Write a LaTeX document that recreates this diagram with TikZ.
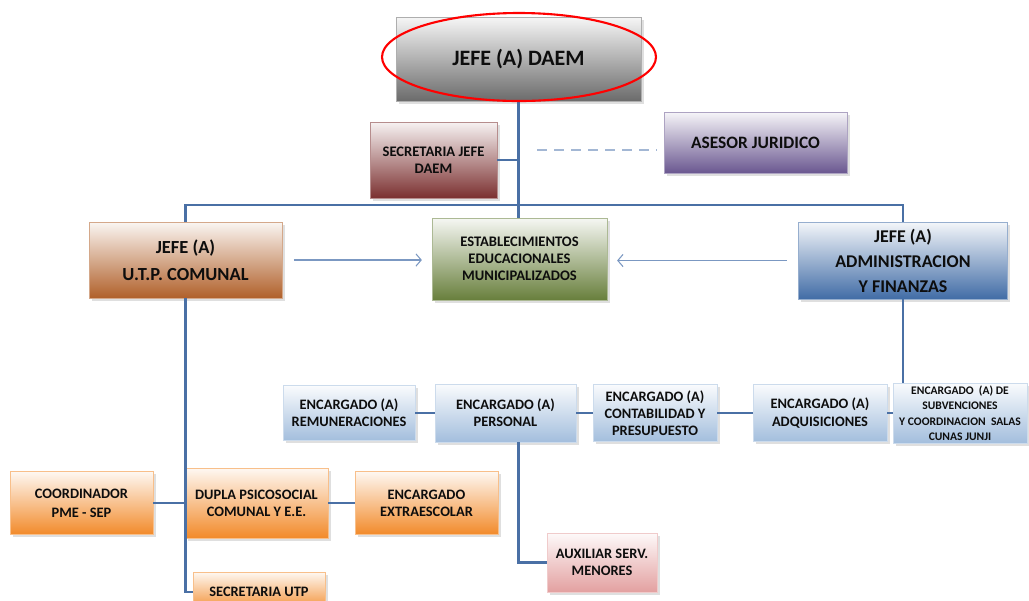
\documentclass[tikz,border=0pt]{standalone}
\usepackage{fontspec}
\setmainfont{Carlito}
\usetikzlibrary{shadows,arrows.meta}

\definecolor{cgray}{HTML}{6B6B6B}
\definecolor{cmaroon}{HTML}{7B3030}
\definecolor{cpurple}{HTML}{6A5790}
\definecolor{cbrown}{HTML}{B0602A}
\definecolor{colive}{HTML}{687F3C}
\definecolor{cblue}{HTML}{416CA6}
\definecolor{clight}{HTML}{A3BEDD}
\definecolor{corange}{HTML}{F28A2A}
\definecolor{cpink}{HTML}{E3A0A0}
\definecolor{linkblue}{HTML}{4A70A5}
\definecolor{arrowblue}{HTML}{7B98C2}

\tikzset{
  box/.style={rectangle, draw=#1!55!white, line width=0.5pt,
    top color=#1!6!white, bottom color=#1, align=center, text=black!95,
    inner sep=1pt, drop shadow={opacity=0.25, shadow xshift=1.5pt, shadow yshift=-1.5pt}},
  sz/.style 2 args={minimum width=#1*0.02cm, minimum height=#2*0.02cm},
  fnt/.style 2 args={font=\fontsize{#1}{#2}\selectfont\bfseries},
  link/.style={draw=linkblue, line width=1.5pt},
  flow/.style={draw=arrowblue, line width=0.6pt, -{Straight Barb[length=3pt,width=7pt]}}
}

\begin{document}
\begin{tikzpicture}[x=0.02cm, y=-0.02cm]
  \clip (0,0) rectangle (1029,600);
  \fill[white] (0,0) rectangle (1029,600);

  % top level
  \node[box=cgray, sz={245}{84}, fnt={12.5}{15}] (daem) at (518.5,59) {JEFE (A) DAEM};
  \node[box=cmaroon, sz={127}{76}, fnt={8.3}{9.8}] (secjefe) at (433.5,160) {SECRETARIA JEFE\\DAEM};
  \node[box=cpurple, sz={183}{61}, fnt={9.9}{11}] (asesor) at (755.5,142.5) {ASESOR JURIDICO};

  % second level
  \node[box=cbrown, sz={193}{76}, fnt={10.5}{15.5}] (utp) at (185.5,260) {JEFE (A)\\U.T.P. COMUNAL};
  \node[box=colive, sz={175}{82}, fnt={8.3}{9.6}] (estab) at (519.5,259) {ESTABLECIMIENTOS\\EDUCACIONALES\\MUNICIPALIZADOS};
  \node[box=cblue, sz={209}{77}, fnt={10.2}{14.2}] (admin) at (903,260.5) {JEFE (A)\\ADMINISTRACION\\Y FINANZAS};

  % encargados
  \node[box=clight, sz={132}{55}, fnt={8.2}{9.8}] (remun) at (349,413) {ENCARGADO (A)\\REMUNERACIONES};
  \node[box=clight, sz={141}{58}, fnt={8.2}{9.8}] (personal) at (505.5,413) {ENCARGADO (A)\\PERSONAL};
  \node[box=clight, sz={124}{57}, fnt={8.2}{9.8}] (contab) at (655,413) {ENCARGADO (A)\\CONTABILIDAD Y\\PRESUPUESTO};
  \node[box=clight, sz={134}{57}, fnt={8.2}{9.8}] (adquis) at (820,413) {ENCARGADO (A)\\ADQUISICIONES};
  \node[box=clight, sz={134}{60}, fnt={6.6}{8.8}] (subv) at (960,413) {ENCARGADO\ \ (A) DE\\SUBVENCIONES\\Y COORDINACION\ \ SALAS\\CUNAS JUNJI};
  \node[box=cpink, sz={110}{59}, fnt={8.2}{9.8}] (aux) at (602,562.5) {AUXILIAR SERV.\\MENORES};

  % utp team
  \node[box=corange, sz={143}{63}, fnt={8.2}{11}] (coord) at (81.5,503) {COORDINADOR\\PME - SEP};
  \node[box=corange, sz={143}{70}, fnt={8.2}{9.8}] (dupla) at (256.5,503) {DUPLA PSICOSOCIAL\\COMUNAL Y E.E.};
  \node[box=corange, sz={143}{63}, fnt={8.2}{9.8}] (extra) at (426.5,503) {ENCARGADO\\EXTRAESCOLAR};
  \node[box=corange, sz={132}{40}, fnt={8.2}{9.8}] (secutp) at (259,592) {SECRETARIA UTP};

  \coordinate (bus) at (0,205);
  \coordinate (dashL) at (537,150);

  % connectors
  \draw[link] (daem.south) -- (daem.south |- estab.north);
  \draw[link] (secjefe.east) -- (secjefe.east -| daem.south);
  \draw[link] (utp.north) -- (utp.north |- bus) -- (admin.north |- bus) -- (admin.north);
  \draw[link] (admin.south) -- (admin.south |- subv.north);
  \draw[link] (remun) -- (personal) -- (contab) -- (adquis) -- (subv);
  \draw[link] (personal.south -| daem.south) |- (aux.west);
  \draw[link] (utp.south) |- (secutp.west);
  \draw[link] (coord) -- (dupla) -- (extra);
  \draw[draw=arrowblue!70!white, line width=1pt, dash pattern=on 5.7pt off 4pt] (dashL) -- ([xshift=-4pt]asesor.west |- dashL);
  \draw[flow] ([xshift=6.5pt]utp.east) -- ([xshift=-5.5pt]estab.west |- utp.east);
  \draw[flow] ([xshift=-6.5pt]admin.west) -- ([xshift=5.5pt]estab.east |- admin.west);

  % highlight
  \draw[red, line width=1.2pt] (519,57) ellipse [x radius=137, y radius=44];
\end{tikzpicture}
\end{document}
